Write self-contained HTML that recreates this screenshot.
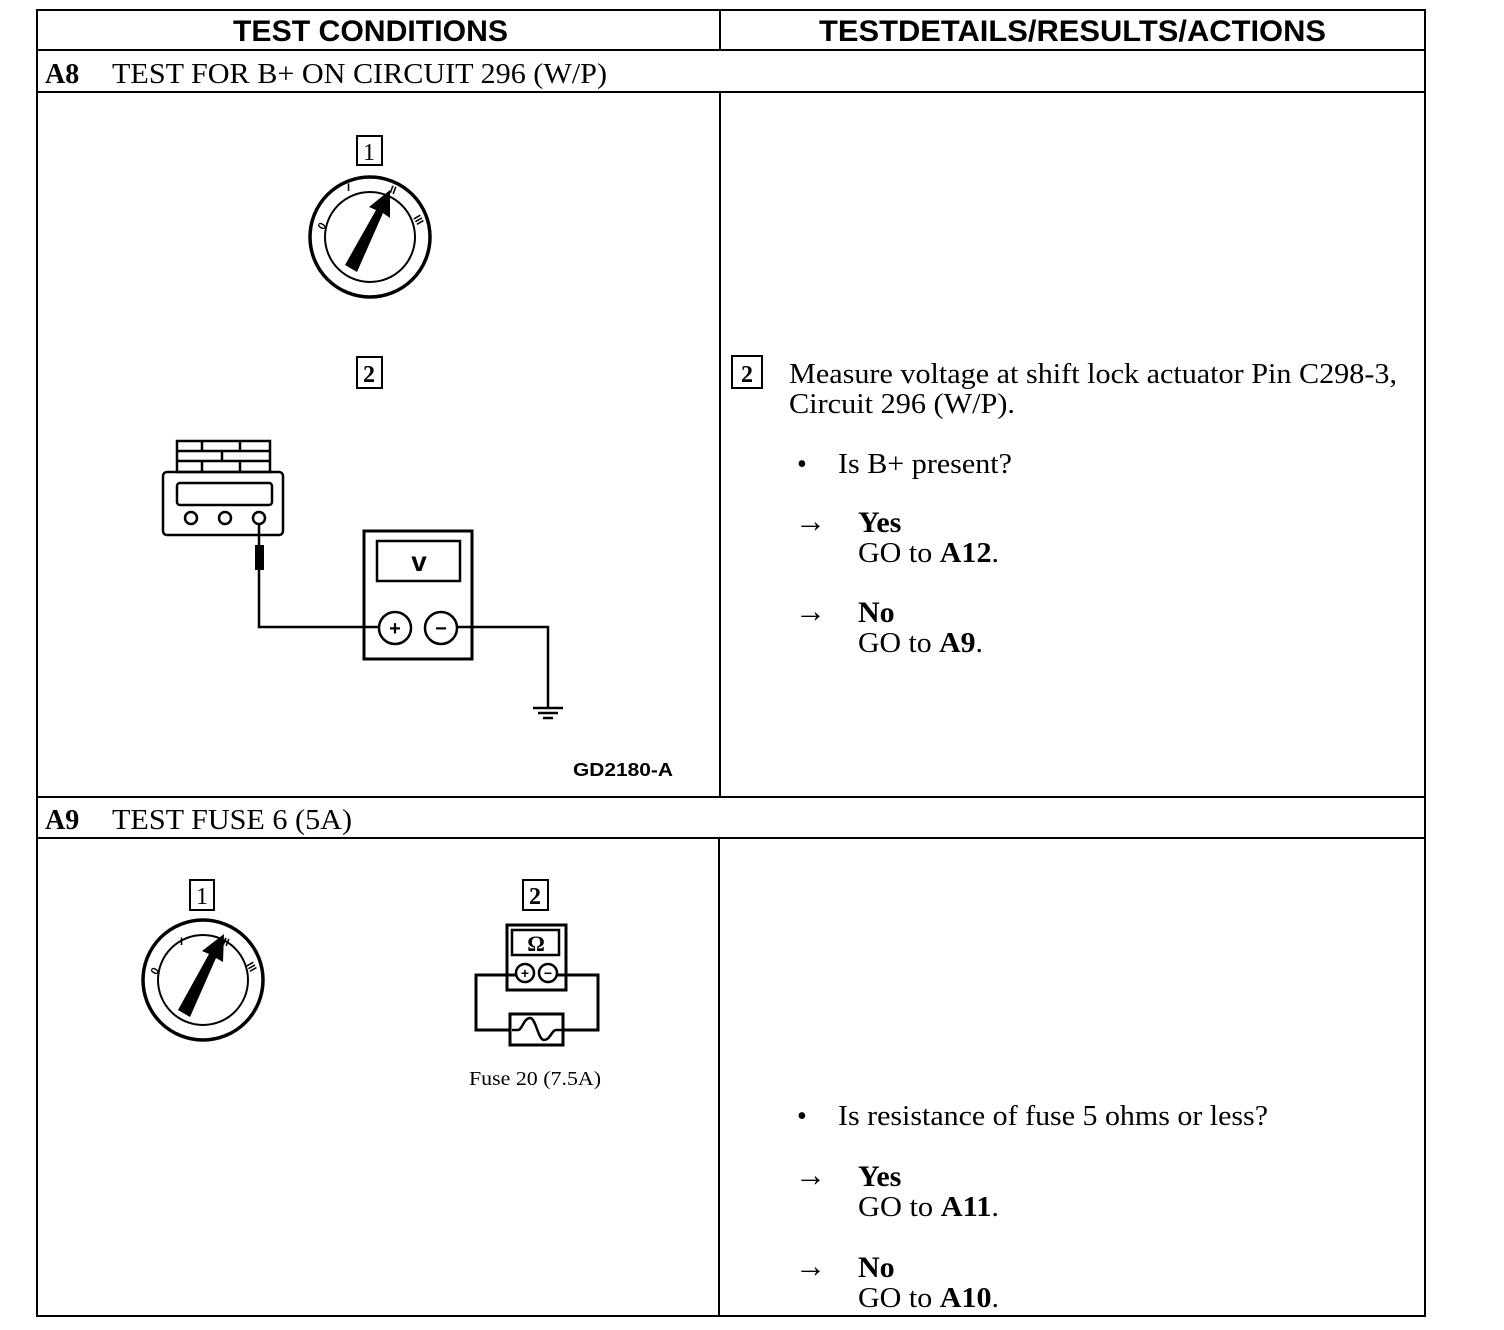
<!DOCTYPE html>
<html><head><style>html,body{margin:0;padding:0;background:#fff}svg{display:block}</style></head><body>
<svg width="1504" height="1330" viewBox="0 0 1504 1330" xmlns="http://www.w3.org/2000/svg">
<g stroke="#000" fill="none" stroke-width="2">
<rect x="37" y="10" width="1388" height="1306"/>
<line x1="37" y1="50" x2="1425" y2="50"/>
<line x1="37" y1="92" x2="1425" y2="92"/>
<line x1="37" y1="797" x2="1425" y2="797"/>
<line x1="37" y1="838" x2="1425" y2="838"/>
<line x1="720" y1="10" x2="720" y2="50"/>
<line x1="720" y1="92" x2="720" y2="797"/>
<line x1="719" y1="838" x2="719" y2="1316"/>
</g>
<g font-family="Liberation Sans, sans-serif" font-weight="bold" font-size="30">
<text x="233" y="41" textLength="275" lengthAdjust="spacingAndGlyphs">TEST CONDITIONS</text>
<text x="819" y="41" textLength="507" lengthAdjust="spacingAndGlyphs">TESTDETAILS/RESULTS/ACTIONS</text>
</g>
<g font-family="Liberation Serif, serif" font-size="28">
<text x="45" y="83" font-weight="bold">A8</text>
<text x="112" y="83" textLength="495" lengthAdjust="spacingAndGlyphs">TEST FOR B+ ON CIRCUIT 296 (W/P)</text>
<text x="45" y="829" font-weight="bold">A9</text>
<text x="112" y="829" textLength="240" lengthAdjust="spacingAndGlyphs">TEST FUSE 6 (5A)</text>
</g>
<!-- A8 diagrams -->
<g stroke="#000" fill="none" stroke-width="2">
<rect x="357" y="136" width="25" height="29"/>
<rect x="357" y="357" width="25" height="31"/>
<circle cx="370" cy="237" r="60" stroke-width="3.5"/>
<circle cx="370" cy="237" r="45"/>
</g>
<g font-family="Liberation Serif, serif" font-size="24" text-anchor="middle">
<text x="369" y="160">1</text><text x="369" y="382" font-weight="bold">2</text>
</g>
<polygon points="345,265 357,272 383,213 390,218 390,190 369,207 376,210" fill="#000"/>
<g font-family="Liberation Sans, sans-serif" font-size="11" font-weight="bold" fill="#000">
<text x="318" y="229" transform="rotate(-60 322 225)">0</text>
<text x="347" y="191">I</text>
<text x="390" y="194" transform="rotate(20 394 190)">II</text>
<text x="414" y="224" transform="rotate(60 419 220)">III</text>
</g>
<g stroke="#000" fill="none" stroke-width="2.5">
<rect x="177" y="441" width="93" height="31"/>
<line x1="177" y1="451" x2="270" y2="451"/><line x1="177" y1="461" x2="270" y2="461"/>
<line x1="202" y1="441" x2="202" y2="451"/><line x1="240" y1="441" x2="240" y2="451"/>
<line x1="222" y1="451" x2="222" y2="461"/><line x1="202" y1="461" x2="202" y2="472"/><line x1="240" y1="461" x2="240" y2="472"/>
<rect x="163" y="472" width="120" height="63" rx="4"/>
<rect x="177" y="483" width="95" height="22" rx="3"/>
<circle cx="191" cy="518" r="6"/><circle cx="225" cy="518" r="6"/><circle cx="259" cy="518" r="6"/>
<polyline points="259,524 259,627 380,627"/>
<rect x="364" y="531" width="108" height="128" stroke-width="3"/>
<rect x="377" y="541" width="83" height="40"/>
<circle cx="395" cy="628" r="16"/><circle cx="441" cy="628" r="16"/>
<polyline points="457,627 548,627 548,708"/>
<line x1="533" y1="708" x2="563" y2="708"/><line x1="538" y1="713" x2="558" y2="713"/><line x1="543" y1="718" x2="553" y2="718"/>
</g>
<rect x="255" y="545" width="9" height="25" fill="#000"/>
<g font-family="Liberation Sans, sans-serif" font-weight="bold" text-anchor="middle">
<text x="419" y="571" font-size="28">v</text>
<text x="395" y="635" font-size="20">+</text>
<text x="441" y="635" font-size="20">−</text>
<text x="623" y="776" font-size="18" textLength="100" lengthAdjust="spacingAndGlyphs">GD2180-A</text>
</g>
<!-- A9 diagrams -->
<g stroke="#000" fill="none" stroke-width="2">
<rect x="190" y="880" width="24" height="30"/>
<rect x="523" y="880" width="25" height="30"/>
<circle cx="203" cy="980" r="60" stroke-width="3.5"/>
<circle cx="203" cy="980" r="45"/>
</g>
<g font-family="Liberation Serif, serif" font-size="24" text-anchor="middle">
<text x="202" y="904">1</text><text x="535" y="904" font-weight="bold">2</text>
</g>
<polygon points="178,1010 190,1017 216,958 223,962 224,934 202,951 209,954" fill="#000"/>
<g font-family="Liberation Sans, sans-serif" font-size="11" font-weight="bold" fill="#000">
<text x="151" y="974" transform="rotate(-60 155 970)">0</text>
<text x="180" y="945">I</text>
<text x="223" y="946" transform="rotate(20 227 942)">II</text>
<text x="247" y="971" transform="rotate(60 252 967)">III</text>
</g>
<g stroke="#000" fill="none" stroke-width="3">
<rect x="507" y="925" width="59" height="65"/>
<rect x="512" y="930" width="47" height="25" stroke-width="2.5"/>
<circle cx="525" cy="973" r="9" stroke-width="2.5"/><circle cx="548" cy="973" r="9" stroke-width="2.5"/>
<polyline points="516,975 476,975 476,1030 510,1030"/>
<polyline points="557,975 598,975 598,1030 563,1030"/>
<rect x="510" y="1014" width="53" height="31"/>
<path d="M512,1030 L518,1030 C522,1030 524,1018 530,1018 C536,1018 538,1040 544,1040 C550,1040 552,1030 556,1030 L563,1030" stroke-width="2.5"/>
</g>
<g font-family="Liberation Sans, sans-serif" font-weight="bold" text-anchor="middle">
<text x="536" y="951" font-size="22" font-family="Liberation Serif, serif">Ω</text>
<text x="525" y="978" font-size="14">+</text>
<text x="548" y="978" font-size="14">−</text>
</g>
<text x="469" y="1085" font-family="Liberation Serif, serif" font-size="20" textLength="132" lengthAdjust="spacingAndGlyphs">Fuse 20 (7.5A)</text>
<!-- right column text -->
<rect x="732" y="356" width="30" height="32" stroke="#000" fill="none" stroke-width="2"/>
<g font-family="Liberation Serif, serif" font-size="28" fill="#000">
<text x="747" y="382" font-size="24" text-anchor="middle" font-weight="bold">2</text>
<text x="789" y="383" textLength="608" lengthAdjust="spacingAndGlyphs">Measure voltage at shift lock actuator Pin C298-3,</text>
<text x="789" y="413" textLength="226" lengthAdjust="spacingAndGlyphs">Circuit 296 (W/P).</text>
<text x="797" y="473">•</text><text x="838" y="473" textLength="174" lengthAdjust="spacingAndGlyphs">Is B+ present?</text>
<text x="795" y="532" font-size="34" textLength="31" lengthAdjust="spacingAndGlyphs">→</text><text x="858" y="532" font-weight="bold" font-size="30">Yes</text>
<text x="858" y="562" textLength="141" lengthAdjust="spacingAndGlyphs">GO to <tspan font-weight="bold">A12</tspan>.</text>
<text x="795" y="622" font-size="34" textLength="31" lengthAdjust="spacingAndGlyphs">→</text><text x="858" y="622" font-weight="bold" font-size="30">No</text>
<text x="858" y="652" textLength="125" lengthAdjust="spacingAndGlyphs">GO to <tspan font-weight="bold">A9</tspan>.</text>
<text x="797" y="1125">•</text><text x="838" y="1125" textLength="430" lengthAdjust="spacingAndGlyphs">Is resistance of fuse 5 ohms or less?</text>
<text x="795" y="1186" font-size="34" textLength="31" lengthAdjust="spacingAndGlyphs">→</text><text x="858" y="1186" font-weight="bold" font-size="30">Yes</text>
<text x="858" y="1216" textLength="141" lengthAdjust="spacingAndGlyphs">GO to <tspan font-weight="bold">A11</tspan>.</text>
<text x="795" y="1277" font-size="34" textLength="31" lengthAdjust="spacingAndGlyphs">→</text><text x="858" y="1277" font-weight="bold" font-size="30">No</text>
<text x="858" y="1307" textLength="141" lengthAdjust="spacingAndGlyphs">GO to <tspan font-weight="bold">A10</tspan>.</text>
</g>
</svg>
</body></html>
